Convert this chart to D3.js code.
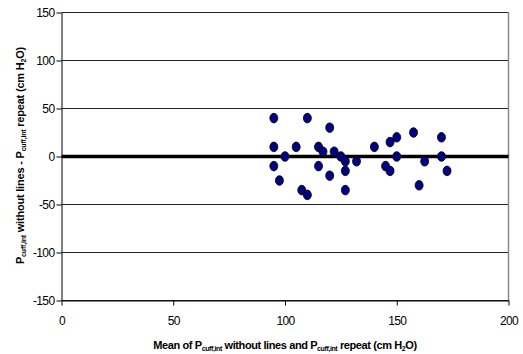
<!DOCTYPE html>
<html lang="en">
<head>
  <meta charset="UTF-8">
  <title>Bland-Altman P cuff,int</title>
  <script src="https://d3js.org/d3.v7.min.js"></script>
  <style>
    body { margin: 0; background: #fff; }
    #chart { display: block; }
    text { font-family: "Liberation Sans", Arial, sans-serif; }
    .tick text { font-size: 12px; letter-spacing: -0.6px; fill: #000; }
    .axis-title { font-size: 11px; font-weight: bold; fill: #000; }
  </style>
</head>
<body>
  <svg id="chart" width="523" height="354"></svg>
  <script>
    // mean of the two measurements (cm H2O)
    const meanValues = [95, 110, 120, 95, 105, 115, 117, 122, 125, 127, 100, 95, 115, 120, 127, 97.5,
      107.5, 110, 127, 132, 140, 145, 147, 150, 150, 157.5, 160, 162.5, 170, 170, 172.5, 147];
    // difference between the two measurements (cm H2O)
    const diffValues = [40, 40, 30, 10, 10, 10, 5, 5, 0, -5, 0, -10, -10, -20, -15, -25,
      -35, -40, -35, -5, 10, -10, -15, 20, 0, 25, -30, -5, 20, 0, -15, 15];
    const xTicks = [0, 50, 100, 150, 200];
    const yTicks = [-150, -100, -50, 0, 50, 100, 150];
    const refLine = [0];

    const svg = d3.select("#chart");
    const x = d3.scaleLinear().domain([0, 200]).range([61.5, 508.5]);
    const y = d3.scaleLinear().domain([-150, 150]).range([300.5, 12.5]);

    // grid lines
    svg.append("g")
      .selectAll("line")
      .data(yTicks.filter(d => d !== 0))
      .join("line")
      .attr("x1", x(0)).attr("x2", x(200))
      .attr("y1", d => y(d)).attr("y2", d => y(d))
      .attr("stroke", "#222").attr("stroke-width", 1);

    // right border of plot area
    svg.append("line")
      .attr("x1", x(200)).attr("x2", x(200))
      .attr("y1", y(150)).attr("y2", y(-150))
      .attr("stroke", "#888").attr("stroke-width", 1.5);

    // zero line
    svg.append("g")
      .selectAll("line")
      .data(refLine)
      .join("line")
      .attr("x1", x(0)).attr("x2", x(200))
      .attr("y1", d => y(d)).attr("y2", d => y(d))
      .attr("stroke", "#000").attr("stroke-width", 3.5);

    // axes (plain hyphen for negatives, like the original)
    const fmt = d => String(d);
    const yAxis = svg.append("g")
      .attr("transform", `translate(${x(0)},0)`)
      .call(d3.axisLeft(y).tickValues(yTicks).tickFormat(fmt).tickSize(5).tickPadding(2).tickSizeOuter(0));
    const xAxis = svg.append("g")
      .attr("transform", `translate(0,${y(-150)})`)
      .call(d3.axisBottom(x).tickValues(xTicks).tickFormat(fmt).tickSize(5).tickPadding(11).tickSizeOuter(0));
    [yAxis, xAxis].forEach(a => {
      a.select(".domain").attr("stroke", "#000");
      a.selectAll(".tick line").attr("stroke", "#000");
      a.selectAll(".tick text").attr("font-size", null).attr("font-family", null);
    });

    // points
    const pts = meanValues.map((m, i) => ({ m: m, d: diffValues[i] }));
    svg.append("g")
      .selectAll("ellipse")
      .data(pts)
      .join("ellipse")
      .attr("cx", p => x(p.m))
      .attr("cy", p => y(p.d))
      .attr("rx", 4)
      .attr("ry", 4.8)
      .attr("fill", "#000080")
      .attr("stroke", "#000")
      .attr("stroke-width", 0.8);

    // axis titles
    const xt = svg.append("text")
      .attr("class", "axis-title")
      .attr("x", (x(0) + x(200)) / 2)
      .attr("y", 349)
      .attr("text-anchor", "middle")
      .attr("letter-spacing", "-0.4px");
    xt.append("tspan").text("Mean of P");
    xt.append("tspan").attr("font-size", "7px").attr("dy", 2).text("cuff,int");
    xt.append("tspan").attr("dy", -2).text(" without lines and P");
    xt.append("tspan").attr("font-size", "7px").attr("dy", 2).text("cuff,int");
    xt.append("tspan").attr("dy", -2).text(" repeat (cm H");
    xt.append("tspan").attr("font-size", "7px").attr("dy", 2).text("2");
    xt.append("tspan").attr("dy", -2).text("O)");

    const yt = svg.append("text")
      .attr("class", "axis-title")
      .attr("transform", `translate(24,${(y(150) + y(-150)) / 2 - 1}) rotate(-90)`)
      .attr("text-anchor", "middle")
      .attr("letter-spacing", "-0.2px");
    yt.append("tspan").text("P");
    yt.append("tspan").attr("font-size", "7px").attr("dy", 2).text("cuff,int");
    yt.append("tspan").attr("dy", -2).text(" without lines - P");
    yt.append("tspan").attr("font-size", "7px").attr("dy", 2).text("cuff,int");
    yt.append("tspan").attr("dy", -2).text(" repeat (cm H");
    yt.append("tspan").attr("font-size", "7px").attr("dy", 2).text("2");
    yt.append("tspan").attr("dy", -2).text("O)");
  </script>
</body>
</html>
